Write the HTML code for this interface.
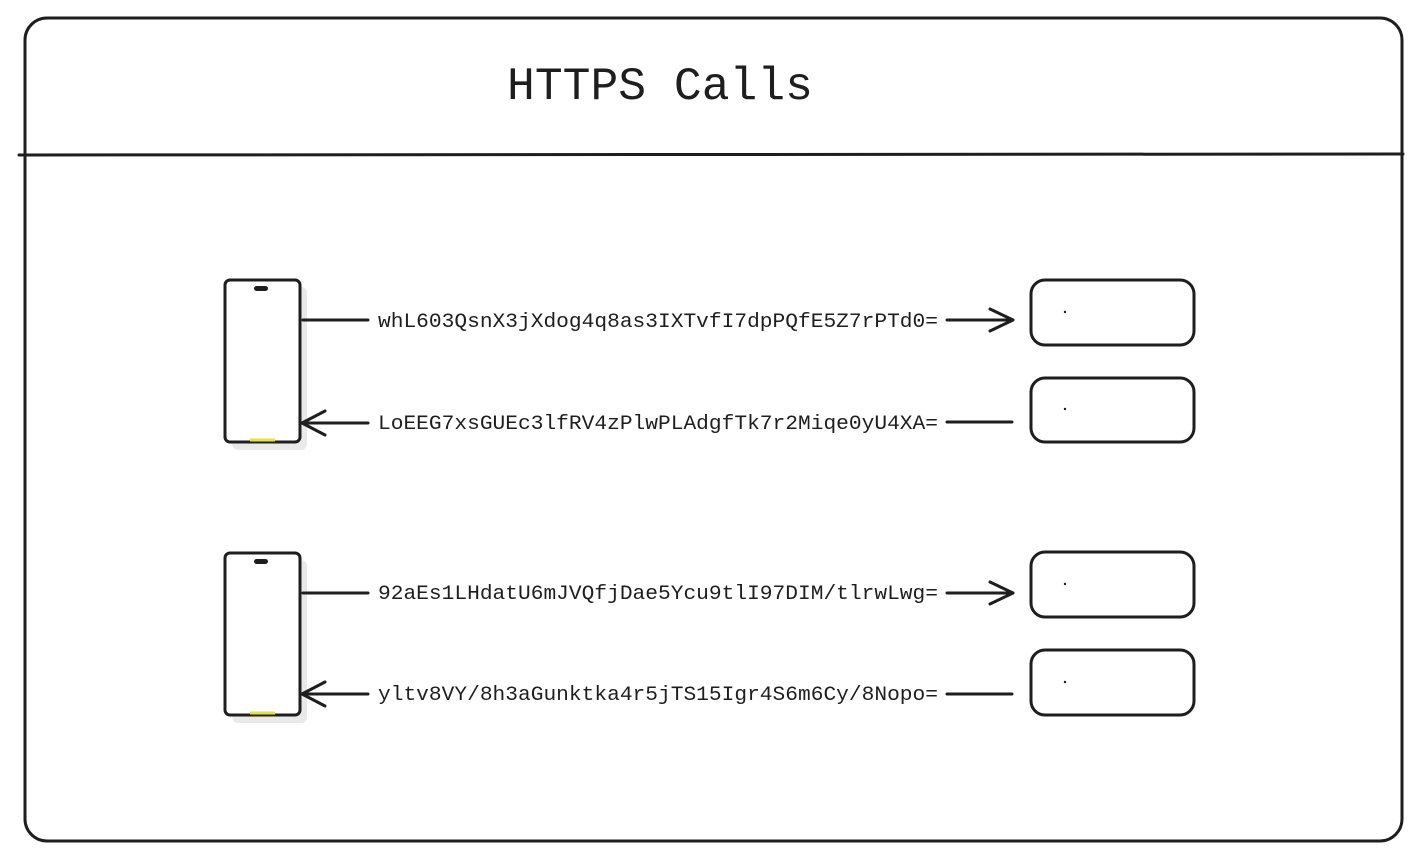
<!DOCTYPE html>
<html><head><meta charset="utf-8"><style>
html,body{margin:0;padding:0;background:#fff;}
svg{display:block}
text{font-family:"Liberation Mono",monospace;fill:#1e1e1e}
</style></head><body>
<svg width="1422" height="862" viewBox="0 0 1422 862">
<g fill="none" stroke="#1e1e1e" stroke-width="3" stroke-linecap="round" stroke-linejoin="round">
<rect x="25" y="18" width="1377" height="823" rx="22"/>
<line x1="19" y1="155" x2="1403" y2="154"/>
</g>
<text x="507" y="99" font-size="46" textLength="306" lengthAdjust="spacingAndGlyphs">HTTPS Calls</text>

<g>
<rect x="232" y="287" width="75" height="163" rx="6" fill="#e9e9e9"/>
<rect x="225" y="280" width="75" height="162" rx="5" fill="#fff" stroke="#1e1e1e" stroke-width="3"/>
<rect x="254" y="286" width="14" height="5" rx="2.5" fill="#1e1e1e"/>
<line x1="250" y1="440" x2="275" y2="440" stroke="#e6e62a" stroke-width="3"/>
<rect x="232" y="560" width="75" height="163" rx="6" fill="#e9e9e9"/>
<rect x="225" y="553" width="75" height="162" rx="5" fill="#fff" stroke="#1e1e1e" stroke-width="3"/>
<rect x="254" y="559" width="14" height="5" rx="2.5" fill="#1e1e1e"/>
<line x1="250" y1="713" x2="275" y2="713" stroke="#e6e62a" stroke-width="3"/>
</g>

<g fill="none" stroke="#1e1e1e" stroke-width="3" stroke-linecap="round" stroke-linejoin="round">
<line x1="303" y1="320" x2="368" y2="320"/>
<line x1="947" y1="320" x2="1013" y2="320"/><polyline points="990,309 1013,320 990,331"/>
<line x1="303" y1="423" x2="368" y2="423"/><polyline points="325,411 302,423 325,435"/>
<line x1="947" y1="422" x2="1012" y2="422"/>
<line x1="303" y1="593" x2="368" y2="593"/>
<line x1="947" y1="593" x2="1013" y2="593"/><polyline points="990,582 1013,593 990,604"/>
<line x1="303" y1="694" x2="368" y2="694"/><polyline points="325,682 302,694 325,706"/>
<line x1="947" y1="694" x2="1012" y2="694"/>
<rect x="1031" y="280" width="163" height="65" rx="14"/>
<rect x="1031" y="378" width="163" height="64" rx="14"/>
<rect x="1031" y="552" width="163" height="65" rx="14"/>
<rect x="1031" y="650" width="163" height="65" rx="14"/>
</g>
<g fill="#1e1e1e">
<circle cx="1065" cy="312" r="1.2"/><circle cx="1065" cy="409" r="1.2"/>
<circle cx="1065" cy="584" r="1.2"/><circle cx="1065" cy="682" r="1.2"/>
</g>
<g font-size="20.5">
<text x="378" y="327" textLength="560" lengthAdjust="spacingAndGlyphs">whL603QsnX3jXdog4q8as3IXTvfI7dpPQfE5Z7rPTd0=</text>
<text x="378" y="429" textLength="560" lengthAdjust="spacingAndGlyphs">LoEEG7xsGUEc3lfRV4zPlwPLAdgfTk7r2Miqe0yU4XA=</text>
<text x="378" y="599" textLength="560" lengthAdjust="spacingAndGlyphs">92aEs1LHdatU6mJVQfjDae5Ycu9tlI97DIM/tlrwLwg=</text>
<text x="378" y="700" textLength="560" lengthAdjust="spacingAndGlyphs">yltv8VY/8h3aGunktka4r5jTS15Igr4S6m6Cy/8Nopo=</text>
</g>
</svg>
</body></html>
